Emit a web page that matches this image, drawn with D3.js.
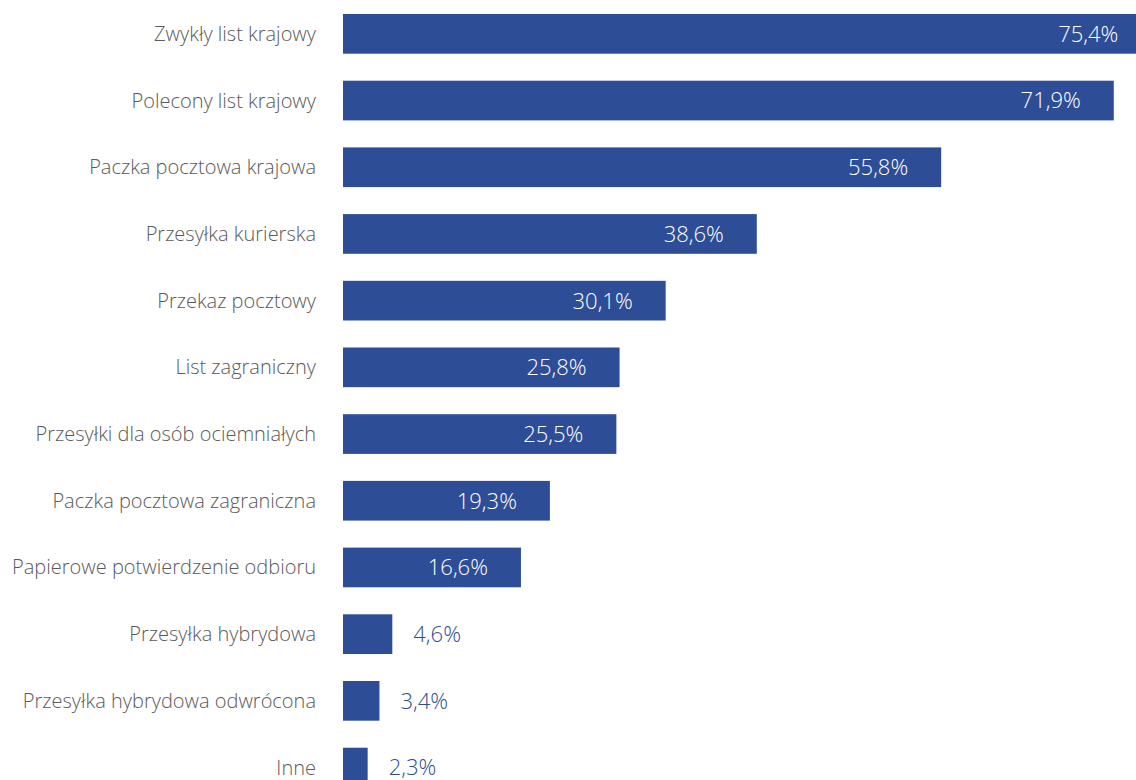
<!DOCTYPE html>
<html><head><meta charset="utf-8">
<script src="https://cdn.jsdelivr.net/npm/d3@7"></script>
<style>body{margin:0;background:#fff;overflow:hidden}</style>
</head><body>
<svg id="c" width="1136" height="780"></svg>
<script>
const categories = ["Zwykły list krajowy","Polecony list krajowy","Paczka pocztowa krajowa","Przesyłka kurierska","Przekaz pocztowy","List zagraniczny","Przesyłki dla osób ociemniałych","Paczka pocztowa zagraniczna","Papierowe potwierdzenie odbioru","Przesyłka hybrydowa","Przesyłka hybrydowa odwrócona","Inne"];
const values = [75.4,71.9,55.8,38.6,30.1,25.8,25.5,19.3,16.6,4.6,3.4,2.3];
const labels = ["75,4%","71,9%","55,8%","38,6%","30,1%","25,8%","25,5%","19,3%","16,6%","4,6%","3,4%","2,3%"];

const svg = d3.select("#c");
const color = "#2e4d97";
const x = d3.scaleLinear().domain([0, 100]).range([343, 343 + 1072]);
const step = 66.7;
const y = d3.scaleBand().domain(categories).range([0.5, 0.5 + step * 12]).paddingInner(0.405).paddingOuter(0.2025);

svg.selectAll("rect.bar").data(values).join("rect")
  .attr("x", x(0)).attr("y", (d,i) => y(categories[i]))
  .attr("width", d => x(d) - x(0)).attr("height", y.bandwidth())
  .attr("fill", color);

svg.selectAll("text.cat").data(categories).join("text")
  .attr("x", 316).attr("y", d => y(d) + y.bandwidth()/2)
  .attr("dy", "0.35em").attr("text-anchor", "end")
  .attr("font-family", "Open Sans").attr("font-weight", 300).attr("font-size", 20)
  .attr("fill", "#5a5a5a").text(d => d);

svg.selectAll("text.val").data(values).join("text")
  .attr("x", d => d > 10 ? x(d) - 33 : x(d) + 21)
  .attr("y", (d,i) => y(categories[i]) + y.bandwidth()/2)
  .attr("dy", "0.36em")
  .attr("text-anchor", d => d > 10 ? "end" : "start")
  .attr("font-family", "Open Sans").attr("font-weight", 300).attr("font-size", 22)
  .attr("fill", d => d > 10 ? "#fff" : color)
  .text((d,i) => labels[i]);
</script>
</body></html>
